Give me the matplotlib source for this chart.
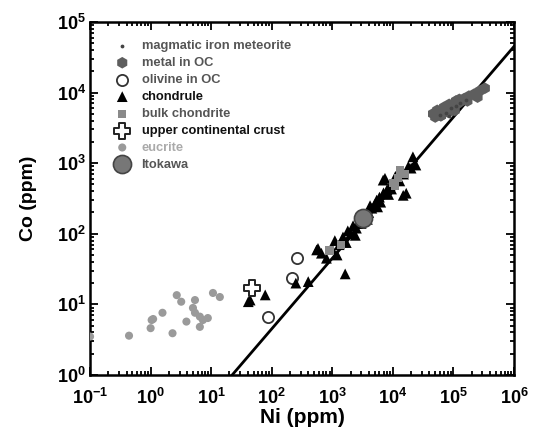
import matplotlib
matplotlib.use("Agg")
import matplotlib.pyplot as plt
import numpy as np

plt.rcParams['font.family'] = ['Liberation Sans', 'DejaVu Sans']
plt.rcParams['font.weight'] = 'bold'
plt.rcParams['axes.unicode_minus'] = False

# ---- data ----
iron_ni = [60000, 75000, 90000, 110000, 130000, 85000, 160000]
iron_co = [4800, 5200, 6000, 6500, 7200, 4600, 7800]

metal_ni = [46000, 50000, 54000, 58000, 62000, 65000, 70000, 72000, 80000, 85000, 90000,
            100000, 105000, 115000, 125000, 130000, 150000, 170000, 180000, 220000, 250000,
            270000, 330000, 95000, 62000, 110000]
metal_co = [5000, 4500, 5600, 5400, 4700, 5100, 6200, 5800, 5300, 6800, 6200,
            6500, 5600, 6900, 8000, 7400, 8200, 7600, 8900, 9500, 8600,
            10500, 11500, 5600, 4700, 7600]

olivine_ni = [87, 265, 213]
olivine_co = [6.7, 45, 24]

chond_ni = [78, 41, 44, 250, 400, 550, 580, 660, 1630,
            800, 1000, 1100, 1300, 1500, 1800, 2000, 2200, 2500, 2800, 3000,
            3500, 4000, 4500, 5000, 5400, 6000, 6900, 7400, 8000, 9000,
            10000, 11000, 12000, 14800, 16600, 18000, 21400, 24000, 15000, 7000,
            1200, 1700, 2400, 2600, 3800, 4200, 5600, 6300, 8500, 9500, 13000, 20000]
chond_co = [13.6, 10.9, 11.5, 20, 21, 59, 62, 53, 27,
            45, 60, 80, 70, 90, 110, 100, 130, 120, 180, 140,
            190, 200, 230, 260, 300, 330, 575, 610, 420, 480,
            500, 650, 600, 350, 375, 900, 1230, 940, 700, 380,
            50, 75, 95, 140, 160, 250, 240, 280, 360, 430, 560, 850]

bulk_ni = [900, 10000, 12000, 13000, 16000, 1400, 11000]
bulk_co = [58, 525, 620, 800, 700, 70, 480]

ucc_ni = [47]
ucc_co = [17.3]

eucrite_ni = [0.1, 0.44, 1.0, 1.04, 1.1, 1.57, 2.3, 2.7, 3.2, 5.4, 3.9, 5.0, 5.4, 6.5, 7.3, 8.8, 6.5, 10.7, 13.9]
eucrite_co = [3.5, 3.6, 4.6, 6.0, 6.2, 7.6, 3.9, 13.5, 10.9, 11.5, 5.7, 8.9, 7.6, 6.7, 6.0, 6.4, 4.8, 14.5, 12.7]

itokawa_ni = [3240]
itokawa_co = [166]

x_exps = [-1, 0, 1, 2, 3, 4, 5, 6]
y_exps = [0, 1, 2, 3, 4, 5]

ci_ratio = 0.045  # Co/Ni of the reference line
line_ni = [10.0, 1e6]

fig = plt.figure(figsize=(5.36, 4.30), dpi=100)
ax = fig.add_axes([0.168, 0.128, 0.791, 0.821])

ax.set_xscale('log')
ax.set_yscale('log')

ax.plot(line_ni, [v * ci_ratio for v in line_ni], color='black', lw=2, zorder=2)

ax.scatter(eucrite_ni, eucrite_co, marker='o', s=34, color='#9a9a9a', edgecolors='none', zorder=3, label='eucrite')
ax.scatter(olivine_ni, olivine_co, marker='o', s=65, facecolors='white', edgecolors='#333333', linewidths=1.3, zorder=4, label='olivine in OC')
ax.scatter(ucc_ni, ucc_co, marker='P', s=130, facecolors='white', edgecolors='#222222', linewidths=1.4, zorder=5, label='upper continental crust')
ax.scatter(chond_ni, chond_co, marker='^', s=60, color='black', edgecolors='none', zorder=4, label='chondrule')
ax.scatter(bulk_ni, bulk_co, marker='s', s=34, color='#8a8a8a', edgecolors='none', zorder=5, label='bulk chondrite')
ax.scatter(metal_ni, metal_co, marker='h', s=70, color='#5e5e5e', edgecolors='none', zorder=4, label='metal in OC')
ax.scatter(iron_ni, iron_co, marker='.', s=12, color='#444444', zorder=5, label='magmatic iron meteorite')
ax.scatter(itokawa_ni, itokawa_co, marker='o', s=170, color='#777777', edgecolors='#444444', linewidths=1.2, zorder=6, label='Itokawa')

ax.set_xticks([10.0 ** e for e in x_exps], [r'$\mathdefault{10^{%d}}$' % e for e in x_exps])
ax.set_yticks([10.0 ** e for e in y_exps], [r'$\mathdefault{10^{%d}}$' % e for e in y_exps])
ax.set_xlim(1e-1, 1e6)
ax.set_ylim(1e0, 1e5)

ax.tick_params(which='both', direction='in', top=True, right=True, width=1.3)
ax.tick_params(which='major', length=6, labelsize=13)
ax.tick_params(which='minor', length=3)
ax.tick_params(axis='x', which='major', pad=9)
ax.tick_params(axis='y', which='major', pad=3)
ax.xaxis.set_minor_locator(matplotlib.ticker.LogLocator(base=10, subs=np.arange(2, 10)))
ax.yaxis.set_minor_locator(matplotlib.ticker.LogLocator(base=10, subs=np.arange(2, 10)))
ax.xaxis.set_minor_formatter(matplotlib.ticker.NullFormatter())
ax.yaxis.set_minor_formatter(matplotlib.ticker.NullFormatter())
for sp in ax.spines.values():
    sp.set_linewidth(1.8)

ax.set_xlabel('Ni (ppm)', fontsize=15, fontweight='bold', labelpad=0)
ax.set_ylabel('Co (ppm)', fontsize=14, fontweight='bold', labelpad=14)

handles, labels = ax.get_legend_handles_labels()
order = ['magmatic iron meteorite', 'metal in OC', 'olivine in OC', 'chondrule',
         'bulk chondrite', 'upper continental crust', 'eucrite', 'Itokawa']
hl = {l: h for h, l in zip(handles, labels)}
leg = ax.legend([hl[o] for o in order], order, loc='upper left', frameon=False,
                fontsize=9.3, handletextpad=0.5, labelspacing=0.38,
                borderaxespad=0.6, scatterpoints=1, bbox_to_anchor=(0.015, 0.985))
colors = {'magmatic iron meteorite': '#555555', 'metal in OC': '#555555', 'olivine in OC': '#555555',
          'chondrule': '#111111', 'bulk chondrite': '#555555', 'upper continental crust': '#111111',
          'eucrite': '#aaaaaa', 'Itokawa': '#555555'}
for t in leg.get_texts():
    t.set_color(colors[t.get_text()])
    t.set_fontweight('bold')

fig.savefig('out.png', dpi=100)
